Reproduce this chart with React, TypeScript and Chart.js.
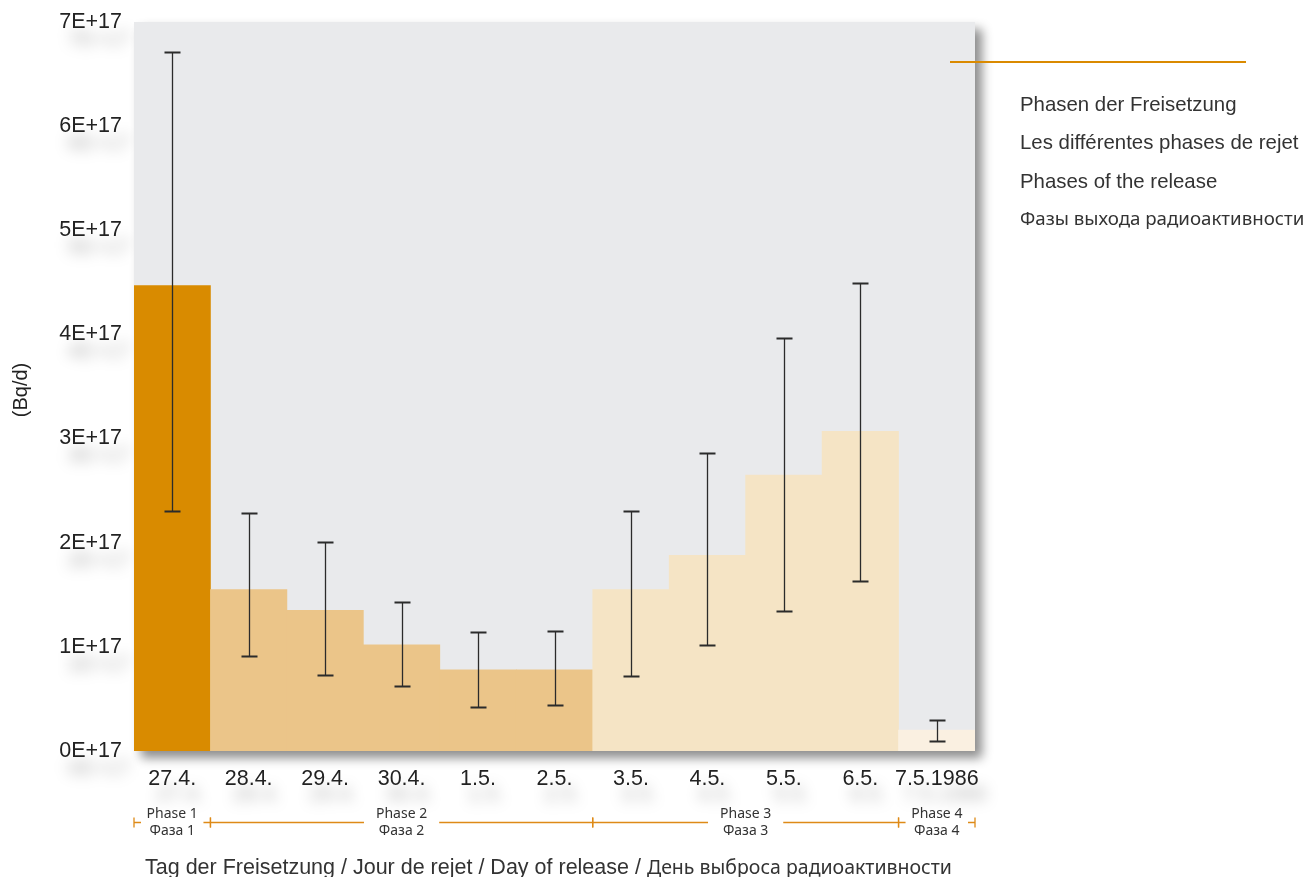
import React, { useEffect, useRef } from "react";
import { Chart, registerables } from "chart.js";

Chart.register(...registerables);

const categories = ["27.4.", "28.4.", "29.4.", "30.4.", "1.5.", "2.5.", "3.5.", "4.5.", "5.5.", "6.5.", "7.5.1986"];
const releaseValues = [4.47e17, 1.55e17, 1.35e17, 1.02e17, 0.78e17, 0.78e17, 1.55e17, 1.88e17, 2.65e17, 3.07e17, 0.2e17];
const errorHigh = [6.71e17, 2.29e17, 2.01e17, 1.43e17, 1.14e17, 1.15e17, 2.3e17, 2.86e17, 3.97e17, 4.49e17, 0.3e17];
const errorLow = [2.3e17, 0.91e17, 0.73e17, 0.62e17, 0.42e17, 0.44e17, 0.72e17, 1.02e17, 1.34e17, 1.63e17, 0.096e17];
const dayPhase = [0, 1, 1, 1, 1, 1, 2, 2, 2, 2, 3];
const phaseColors = ["#D98B00", "#EBC589", "#F5E4C5", "#FAF0E1"];
const phaseNames = ["Phase 1", "Phase 2", "Phase 3", "Phase 4"];
const phaseNamesRu = ["Фаза 1", "Фаза 2", "Фаза 3", "Фаза 4"];
const phaseStart = [0, 1, 6, 10];
const phaseEnd = [0, 5, 9, 10];
const yTickLabels = ["0E+17", "1E+17", "2E+17", "3E+17", "4E+17", "5E+17", "6E+17", "7E+17"];
const legendTitles = ["Phasen der Freisetzung", "Les différentes phases de rejet", "Phases of the release"];
const legendTitleRu = "Фазы выхода радиоактивности";
const xTitle = "Tag der Freisetzung / Jour de rejet / Day of release / ";
const xTitleRu = "День выброса радиоактивности";
const yTitle = "(Bq/d)";

const LATIN = '"Liberation Sans", Arial, sans-serif';
const CYR = '"Noto Sans", "Open Sans", sans-serif';
const ORANGE = "#DE8A17";
const TICK_SIZE = 21.5;

const decorPlugin = {
  id: "decor",
  beforeDraw(chart: any) {
    const { ctx, chartArea: a, scales } = chart;
    const xs = scales.x;
    const ys = scales.y;
    ctx.save();
    // soft label shadows
    ctx.filter = "blur(7px)";
    ctx.fillStyle = "rgba(0,0,0,0.3)";
    ctx.font = `${TICK_SIZE}px ${LATIN}`;
    ctx.textBaseline = "middle";
    ctx.textAlign = "right";
    yTickLabels.forEach((t, i) => {
      const y = ys.getPixelForValue(i * 1e17);
      ctx.fillText(t, a.left - 4, y + 18);
    });
    ctx.textAlign = "center";
    categories.forEach((c, i) => {
      ctx.fillText(c, xs.getPixelForValue(i) + 8, a.bottom + 44);
    });
    ctx.filter = "none";
    // plot area with drop shadow
    ctx.shadowColor = "rgba(0,0,0,0.45)";
    ctx.shadowBlur = 10;
    ctx.shadowOffsetX = 7;
    ctx.shadowOffsetY = 7;
    ctx.fillStyle = "#E9EAEC";
    ctx.fillRect(a.left, a.top, a.right - a.left, a.bottom - a.top);
    ctx.restore();
  },
  afterDatasetsDraw(chart: any) {
    const { ctx, chartArea: a, scales } = chart;
    const xs = scales.x;
    const ys = scales.y;
    ctx.save();
    // error bars
    ctx.strokeStyle = "#2b2b2b";
    categories.forEach((_, i) => {
      const x = Math.round(xs.getPixelForValue(i)) + 0.5;
      const yh = Math.round(ys.getPixelForValue(errorHigh[i])) + 0.5;
      const yl = Math.round(ys.getPixelForValue(errorLow[i])) + 0.5;
      ctx.lineWidth = 1.3;
      ctx.beginPath();
      ctx.moveTo(x, yh);
      ctx.lineTo(x, yl);
      ctx.stroke();
      ctx.lineWidth = 1.8;
      ctx.beginPath();
      ctx.moveTo(x - 8, yh);
      ctx.lineTo(x + 8, yh);
      ctx.moveTo(x - 8, yl);
      ctx.lineTo(x + 8, yl);
      ctx.stroke();
    });
    // phase annotations
    const bw = xs.getPixelForValue(1) - xs.getPixelForValue(0);
    const ly = a.bottom + 71.5;
    ctx.strokeStyle = ORANGE;
    ctx.lineWidth = 1.3;
    ctx.font = `14px ${CYR}`;
    ctx.fillStyle = "#333";
    ctx.textAlign = "center";
    ctx.textBaseline = "middle";
    phaseNames.forEach((p, k) => {
      const x0 = xs.getPixelForValue(phaseStart[k]) - bw / 2;
      const x1 = xs.getPixelForValue(phaseEnd[k]) + bw / 2;
      const cx = (x0 + x1) / 2;
      const tw = Math.max(ctx.measureText(p).width, ctx.measureText(phaseNamesRu[k]).width);
      const pad = Math.max(2, Math.min(12, (x1 - x0 - tw) / 2 - 7));
      const g0 = cx - tw / 2 - pad;
      const g1 = cx + tw / 2 + pad;
      ctx.beginPath();
      ctx.moveTo(x0, ly);
      ctx.lineTo(g0, ly);
      ctx.moveTo(g1, ly);
      ctx.lineTo(x1, ly);
      ctx.moveTo(x0, ly - 5);
      ctx.lineTo(x0, ly + 5);
      ctx.moveTo(x1, ly - 5);
      ctx.lineTo(x1, ly + 5);
      ctx.stroke();
      ctx.fillText(p, cx, ly - 8);
      ctx.fillText(phaseNamesRu[k], cx, ly + 9);
    });
    // x title
    ctx.textAlign = "left";
    ctx.textBaseline = "alphabetic";
    ctx.fillStyle = "#333";
    ctx.font = `21.5px ${LATIN}`;
    const tx = 145;
    const tb = 874;
    ctx.fillText(xTitle, tx, tb);
    const w1 = ctx.measureText(xTitle).width;
    ctx.font = `19.5px ${CYR}`;
    ctx.fillText(xTitleRu, tx + w1, tb);
    // y title
    ctx.save();
    ctx.translate(21, 390);
    ctx.rotate(-Math.PI / 2);
    ctx.textAlign = "center";
    ctx.textBaseline = "middle";
    ctx.font = `20px ${LATIN}`;
    ctx.fillStyle = "#222";
    ctx.fillText(yTitle, 0, 0);
    ctx.restore();
    // legend
    ctx.strokeStyle = "#DA8A00";
    ctx.lineWidth = 2;
    ctx.beginPath();
    ctx.moveTo(950, 62);
    ctx.lineTo(1246, 62);
    ctx.stroke();
    ctx.fillStyle = "#333";
    ctx.textBaseline = "middle";
    ctx.textAlign = "left";
    ctx.font = `20.4px ${LATIN}`;
    legendTitles.forEach((t, i) => {
      ctx.fillText(t, 1020, 105 + i * 38.5);
    });
    ctx.font = `18.7px ${CYR}`;
    ctx.fillText(legendTitleRu, 1020, 220);
    ctx.restore();
  },
};

export default function App() {
  const ref = useRef<HTMLCanvasElement>(null);
  useEffect(() => {
    const chart = new Chart(ref.current as HTMLCanvasElement, {
      type: "bar",
      data: {
        labels: categories,
        datasets: [
          {
            data: releaseValues,
            backgroundColor: dayPhase.map((p) => phaseColors[p]),
            barPercentage: 1,
            categoryPercentage: 1,
            borderWidth: 0,
          },
        ],
      },
      options: {
        animation: false,
        responsive: false,
        devicePixelRatio: 1,
        layout: { padding: { top: 22, right: 332, bottom: 86, left: 0 } },
        plugins: { legend: { display: false }, tooltip: { enabled: false } },
        scales: {
          x: {
            grid: { display: false, drawTicks: false },
            border: { display: false },
            ticks: { font: { size: TICK_SIZE, family: LATIN }, color: "#222", padding: 15, maxRotation: 0, autoSkip: false },
            afterFit: (s: any) => {
              s.height = 40;
              s.paddingLeft = 0;
              s.paddingRight = 0;
            },
          },
          y: {
            min: 0,
            max: 7e17,
            grid: { display: false, drawTicks: false },
            border: { display: false },
            ticks: {
              stepSize: 1e17,
              font: { size: TICK_SIZE, family: LATIN },
              color: "#222",
              padding: 12,
              callback: (_v: any, i: number) => yTickLabels[i],
            },
            afterFit: (s: any) => {
              s.width = 134;
              s.paddingTop = 0;
              s.paddingBottom = 0;
            },
          },
        },
      },
      plugins: [decorPlugin],
    } as any);
    return () => chart.destroy();
  }, []);
  return (
    <div style={{ position: "absolute", left: 0, top: 0, width: 1307, height: 877, background: "#fff" }}>
      <canvas ref={ref} width={1307} height={877} />
    </div>
  );
}
